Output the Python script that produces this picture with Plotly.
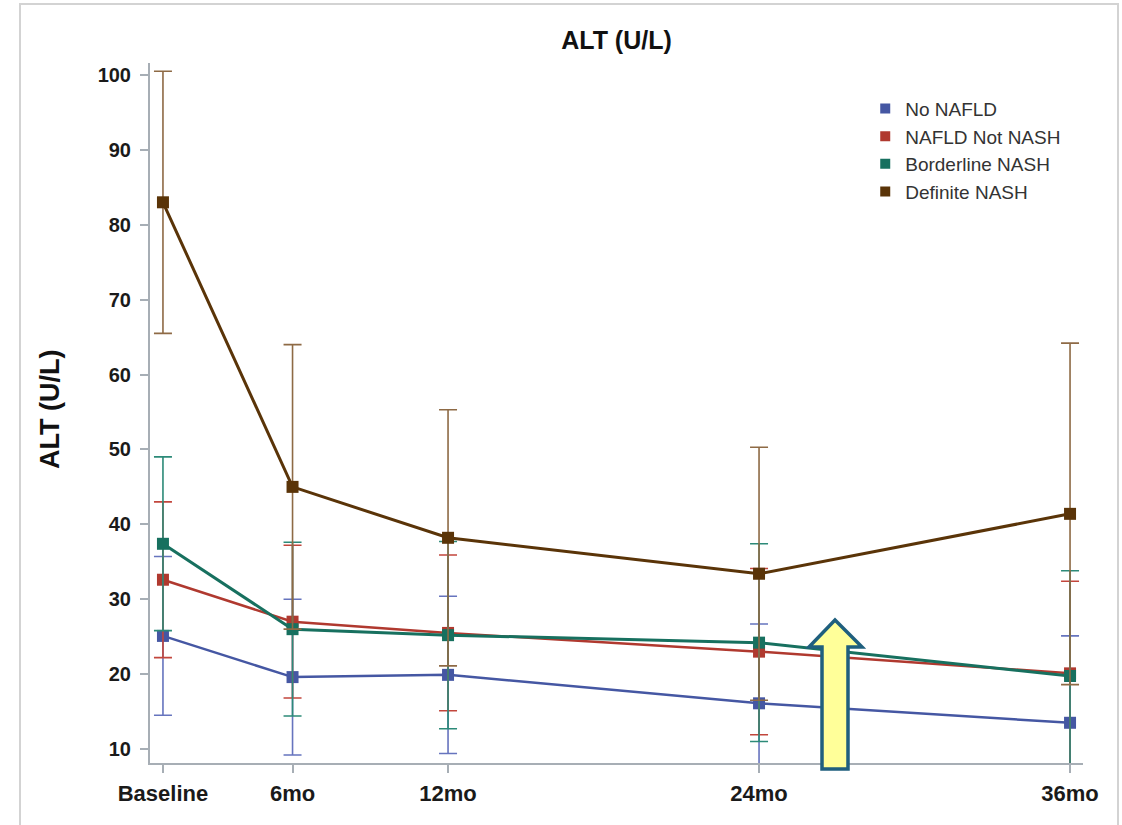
import plotly.graph_objects as go

# ---- data ----
timepoints = [1, 6, 12, 24, 36]
tick_labels = ["Baseline", "6mo", "12mo", "24mo", "36mo"]
groups = ["No NAFLD", "NAFLD Not NASH", "Borderline NASH", "Definite NASH"]

no_nafld_mean = [25.1, 19.6, 19.9, 16.1, 13.5]
no_nafld_sd = [10.6, 10.4, 10.5, 10.6, 11.6]

nafld_not_nash_mean = [32.6, 27.0, 25.5, 23.0, 20.1]
nafld_not_nash_sd = [10.4, 10.2, 10.4, 11.1, 12.3]

borderline_nash_mean = [37.4, 26.0, 25.2, 24.2, 19.75]
borderline_nash_sd = [11.6, 11.6, 12.5, 13.2, 14.05]

definite_nash_mean = [83.0, 45.0, 38.2, 33.4, 41.4]
definite_nash_sd = [17.5, 19.0, 17.1, 16.9, 22.8]

means = [no_nafld_mean, nafld_not_nash_mean, borderline_nash_mean, definite_nash_mean]
sds = [no_nafld_sd, nafld_not_nash_sd, borderline_nash_sd, definite_nash_sd]

line_colors = ["#4557A3", "#B0392F", "#17705F", "#5A3408"]
err_colors = ["#6674BE", "#C2463C", "#2C8A78", "#8E6A45"]
line_widths = [2.5, 2.5, 3, 3]

FONT = "Liberation Sans"

fig = go.Figure()

for g, m, s, lc, ec, lw in zip(groups, means, sds, line_colors, err_colors, line_widths):
    fig.add_trace(go.Scatter(
        x=timepoints, y=m, mode="lines+markers", name=g, showlegend=False,
        line=dict(color=lc, width=lw),
        marker=dict(symbol="square", size=12, color=lc),
        error_y=dict(type="data", array=s, visible=True, color=ec,
                     thickness=1.6, width=9),
        cliponaxis=True,
    ))

for g, lc in zip(groups, line_colors):
    fig.add_trace(go.Scatter(
        x=[None], y=[None], mode="markers", name=g,
        marker=dict(symbol="square", size=10, color=lc),
    ))

axis_col = "#A7AEB5"

fig.update_layout(
    width=1122, height=825,
    margin=dict(l=150, r=39, t=63, b=62),
    paper_bgcolor="white", plot_bgcolor="white",
    font=dict(family=FONT, color="#222222"),
    title=dict(text="ALT (U/L)", x=0.5, xref="paper", y=1 - 40 / 825,
               yref="container", yanchor="middle", xanchor="center",
               font=dict(size=25, weight="bold", family=FONT, color="#111111")),
    showlegend=True,
    legend=dict(x=0.7666, y=0.962, xanchor="left", yanchor="top",
                font=dict(size=19, family=FONT, color="#333333"),
                bgcolor="rgba(0,0,0,0)", itemwidth=30, tracegroupgap=0),
    xaxis=dict(range=[0.5, 36.5], tickvals=timepoints, ticktext=tick_labels,
               showgrid=False, zeroline=False, showline=True, linecolor=axis_col,
               linewidth=2, ticks="outside", ticklen=8, tickcolor=axis_col, tickwidth=2,
               ticklabelstandoff=2,
               tickfont=dict(size=22, weight="bold", family=FONT, color="#1a1a1a")),
    yaxis=dict(range=[8.13, 101.6], tickvals=[10, 20, 30, 40, 50, 60, 70, 80, 90, 100],
               showgrid=False, zeroline=False, showline=True, linecolor=axis_col,
               linewidth=2, ticks="outside", ticklen=8, tickcolor=axis_col, tickwidth=2,
               ticklabelstandoff=5,
               tickfont=dict(size=20, weight="bold", family=FONT, color="#1a1a1a")),
)

# y-axis title
fig.add_annotation(text="ALT (U/L)", xref="paper", yref="paper",
                   x=(50 - 150) / 933, y=(763 - 410) / 700, textangle=-90,
                   showarrow=False, xanchor="center", yanchor="middle",
                   font=dict(size=27, weight="bold", family=FONT, color="#111111"))

# outer frame
fig.add_shape(type="rect", xref="paper", yref="paper",
              x0=(20 - 150) / 933, x1=(1118 - 150) / 933,
              y0=(763 - 840) / 700, y1=(763 - 4) / 700,
              line=dict(color="#D3D3D3", width=2), fillcolor="rgba(0,0,0,0)", layer="below")

# yellow arrow annotation
def px(xp):
    return (xp - 150) / 933

def py(yp):
    return (763 - yp) / 700

pts = [(835, 620), (862, 647), (848, 647), (848, 769), (822, 769), (822, 647), (809, 647)]
path = "M " + " L ".join(f"{px(a):.5f},{py(b):.5f}" for a, b in pts) + " Z"
fig.add_shape(type="path", xref="paper", yref="paper", path=path,
              fillcolor="#FFFF99", line=dict(color="#1F5F7E", width=3.5), layer="above")

fig.write_html("out.html")
